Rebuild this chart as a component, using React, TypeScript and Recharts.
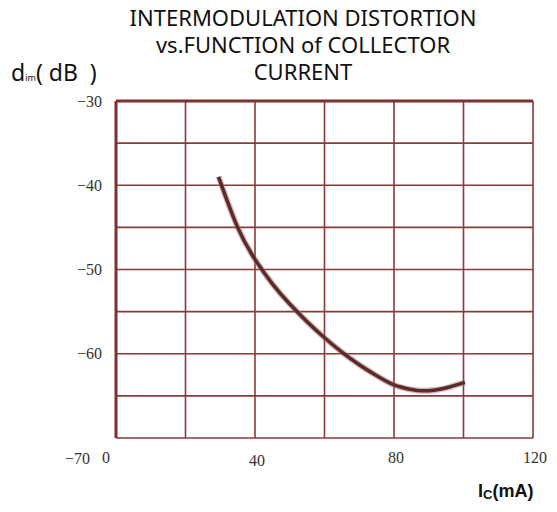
import React from "react";
import {
  LineChart,
  Line,
  XAxis,
  YAxis,
  CartesianGrid,
  ReferenceLine,
} from "recharts";

// collector current (mA) and intermodulation distortion (dB)
const currentMA = [29.5, 35, 40, 45, 50, 55, 60, 65, 70, 75, 80, 85, 88, 92, 96, 100.4];
const distortionDB = [-39, -45, -48.8, -51.7, -54.1, -56.2, -58.1, -59.8, -61.3, -62.6, -63.7, -64.25, -64.4, -64.3, -63.95, -63.4];

const xTicks = [0, 20, 40, 60, 80, 100, 120];
const xLabels = [0, 40, 80, 120];
const yTicks = [-70, -65, -60, -55, -50, -45, -40, -35, -30];
const yLabels = [-30, -40, -50, -60, -70];

const titleLines = ["INTERMODULATION DISTORTION", "vs.FUNCTION of COLLECTOR", "CURRENT"];

const GRID = "#8a3a3a";
const BORDER = "#7f3030";
const CURVE = "#5a2b2b";
const TICK_FONT = "'Liberation Serif', 'DejaVu Serif', serif";

const data = currentMA.map((x, i) => ({ x, y: distortionDB[i] }));

const YTick = (props: any) => {
  const { x, y, payload } = props;
  if (!yLabels.includes(payload.value)) return null;
  const low = payload.value === -70;
  return (
    <text
      x={low ? x - 12 : x}
      y={low ? y + 20 : y}
      textAnchor="end"
      dominantBaseline="central"
      fontFamily={TICK_FONT}
      fontSize={16}
      fill="#333"
    >
      {"\u2212" + Math.abs(payload.value)}
    </text>
  );
};

const XTick = (props: any) => {
  const { x, y, payload } = props;
  if (!xLabels.includes(payload.value)) return null;
  const dx = payload.value === 0 ? -10 : 2;
  const dy = payload.value === 40 ? 3 : 0;
  return (
    <text
      x={x + dx}
      y={y + dy}
      textAnchor="middle"
      dominantBaseline="central"
      fontFamily={TICK_FONT}
      fontSize={16}
      fill="#333"
    >
      {payload.value}
    </text>
  );
};

export default function App() {
  return (
    <div style={{ position: "absolute", left: 0, top: 0, width: 557, height: 512, background: "#fff" }}>
      <LineChart
        width={557}
        height={512}
        data={data}
        margin={{ top: 101, right: 24, left: 86, bottom: 44 }}
      >
        <CartesianGrid stroke={GRID} strokeWidth={1.6} />
        <XAxis
          dataKey="x"
          type="number"
          domain={[0, 120]}
          ticks={xTicks}
          height={30}
          axisLine={false}
          tickLine={false}
          tickSize={0}
          tickMargin={19}
          tick={(p: any) => <XTick {...p} />}
          interval={0}
        />
        <YAxis
          type="number"
          domain={[-70, -30]}
          ticks={yTicks}
          width={30}
          axisLine={false}
          tickLine={false}
          tickSize={0}
          tickMargin={14}
          tick={(p: any) => <YTick {...p} />}
          interval={0}
        />
        <ReferenceLine y={-30} stroke={BORDER} strokeWidth={3} />
        <ReferenceLine x={0} stroke={BORDER} strokeWidth={3} />
        <Line
          dataKey="y"
          type="natural"
          stroke="#b07070"
          strokeOpacity={0.5}
          strokeWidth={6}
          dot={false}
          isAnimationActive={false}
        />
        <Line
          dataKey="y"
          type="natural"
          stroke={CURVE}
          strokeWidth={3.5}
          dot={false}
          isAnimationActive={false}
        />
      </LineChart>

      <div
        style={{
          position: "absolute",
          left: 70,
          top: 4,
          width: 466,
          textAlign: "center",
          fontFamily: "'Noto Sans', sans-serif",
          fontSize: 22,
          lineHeight: "27px",
          color: "#111",
        }}
      >
        {titleLines.map((t) => (
          <div key={t}>{t}</div>
        ))}
      </div>

      <div
        style={{
          position: "absolute",
          left: 11,
          top: 56,
          fontFamily: "'Noto Sans', sans-serif",
          fontSize: 23,
          color: "#111",
          whiteSpace: "pre",
        }}
      >
        d<span style={{ fontSize: 9 }}>im</span>( dB  )
      </div>

      <div
        style={{
          position: "absolute",
          left: 478,
          top: 481,
          fontFamily: "'Liberation Sans', Arial, sans-serif",
          fontWeight: "bold",
          fontSize: 18,
          color: "#111",
          whiteSpace: "pre",
        }}
      >
        I<span style={{ fontSize: 13, position: "relative", top: 2 }}>C</span>(mA)
      </div>
    </div>
  );
}
